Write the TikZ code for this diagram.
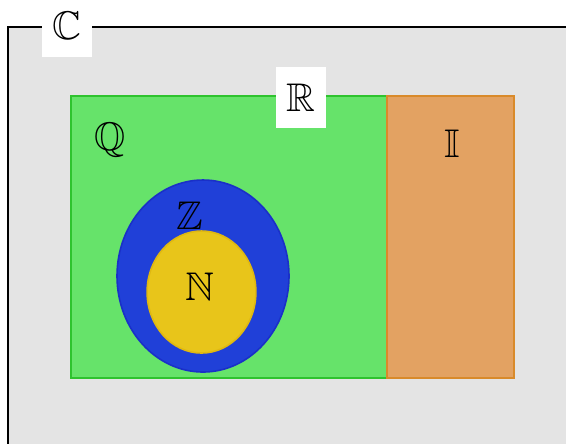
\documentclass[tikz,border=0pt]{standalone}
\usepackage{amssymb}
\usepackage{amsmath}
\usetikzlibrary{positioning}
\usetikzlibrary{shapes.geometric}

\definecolor{setgray}{HTML}{E4E4E4}
\definecolor{setgreen}{HTML}{66E36A}
\definecolor{setgreenline}{HTML}{2EC32E}
\definecolor{setorange}{HTML}{E3A262}
\definecolor{setorangeline}{HTML}{D98A2A}
\definecolor{setblue}{HTML}{2040D8}
\definecolor{setblueline}{HTML}{1A30C8}
\definecolor{setyellow}{HTML}{E8C51A}
\definecolor{setyellowline}{HTML}{E0B810}

\tikzset{
    setlabel/.style={inner sep=0pt},
    tagbox/.style={fill=white, inner sep=0pt, minimum width=12.5pt, minimum height=15.25pt}
}

\begin{document}
\begin{tikzpicture}[x=0.25pt, y=-0.25pt]
            \useasboundingbox (0,0) rectangle (566,443);
            \clip (0,0) rectangle (566,443);

            % Complex numbers (outer frame)
            \draw[fill=setgray] (8,27) rectangle (600,480);
            \node[tagbox] (Ctag) at (67,26) {$\mathbb{C}$};

            % Rationals and irrationals
            \draw[setgreenline, fill=setgreen] (71,96) rectangle (387,378);
            \draw[setorangeline, fill=setorange] (387,96) rectangle (514,378);
            \node[tagbox] (Rtag) at (301,97.5) {$\mathbb{R}$};
            \node[setlabel] (Q) at (110,140) {$\mathbb{Q}$};
            \node[setlabel] (I) at (452,144) {$\mathbb{I}$};

            % Integers and naturals
            \draw[setblueline, fill=setblue] (203,276) ellipse [x radius=21.5pt, y radius=24pt];
            \draw[setyellowline, fill=setyellow] (201.5,292) ellipse [x radius=13.6pt, y radius=15.25pt];
            \node[setlabel] (Z) at (190,216) {$\mathbb{Z}$};
            \node[setlabel] (N) at (199.5,287) {$\mathbb{N}$};
        \end{tikzpicture}
\end{document}
